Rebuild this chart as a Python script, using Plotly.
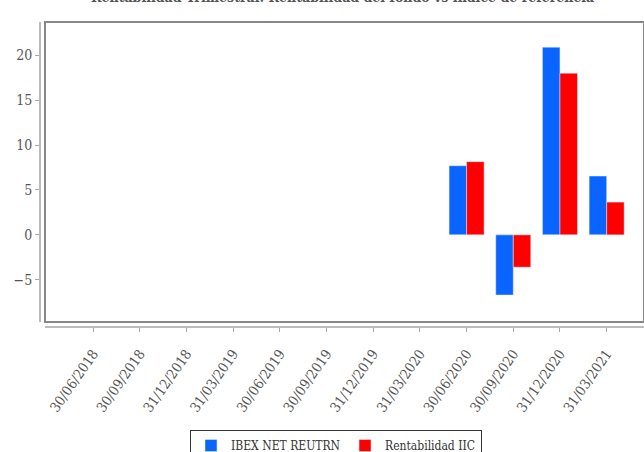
import plotly.graph_objects as go

categories = ["30/06/2018", "30/09/2018", "31/12/2018", "31/03/2019", "30/06/2019",
              "30/09/2019", "31/12/2019", "31/03/2020", "30/06/2020", "30/09/2020",
              "31/12/2020", "31/03/2021"]
ibex = [None, None, None, None, None, None, None, None, 7.7, -6.7, 20.9, 6.55]
rent = [None, None, None, None, None, None, None, None, 8.15, -3.6, 18.0, 3.65]
y_ticks = [-5, 0, 5, 10, 15, 20]
title_text = "Rentabilidad Trimestral: Rentabilidad del fondo vs índice de referencia"

W, H = 644, 452
ml, mr, mt, mb = 40, 0, 22, 125
pw = W - ml - mr
ph = H - mt - mb
off = 5

fig = go.Figure()
fig.add_trace(go.Bar(x=categories, y=ibex, name="IBEX NET REUTRN", marker_color="#0a64ff"))
fig.add_trace(go.Bar(x=categories, y=rent, name="Rentabilidad IIC", marker_color="#ff0000"))

font = "DejaVu Serif Condensed, DejaVu Serif, serif"
fig.update_layout(
    width=W, height=H,
    margin=dict(l=ml, r=mr, t=mt, b=mb, autoexpand=False),
    paper_bgcolor="white", plot_bgcolor="white",
    barmode="group", bargap=0.25, bargroupgap=0,
    font=dict(family=font, color="#555555", size=13),
    xaxis=dict(
        domain=[off / pw, 1], anchor="free", position=0, automargin=False,
        type="category", range=[-1.03, 11.8],
        showgrid=False, zeroline=False,
        showline=True, linecolor="#bbbbbb", linewidth=2,
        ticks="outside", ticklen=4, tickcolor="#aaaaaa",
        ticklabelstandoff=8,
        tickangle=-55, tickfont=dict(size=14, color="#555555"),
    ),
    yaxis=dict(
        domain=[off / ph, 1], anchor="free", position=0, automargin=False,
        range=[-9.7, 23.7], tickvals=y_ticks,
        showgrid=False, zeroline=False,
        showline=True, linecolor="#bbbbbb", linewidth=2,
        ticks="outside", ticklen=4, tickcolor="#aaaaaa",
        tickfont=dict(size=14, color="#555555"),
    ),
    showlegend=True,
    legend=dict(
        orientation="h", xref="container", yref="container",
        x=336 / W, xanchor="center", y=1 - 430 / H, yanchor="top",
        bordercolor="#333333", borderwidth=1,
        font=dict(size=12, color="#333333", family=font),
        itemwidth=30, tracegroupgap=0,
    ),
    shapes=[dict(type="rect", xref="x domain", yref="y domain", x0=0, x1=1, y0=0, y1=1,
                 line=dict(color="#888888", width=2), layer="above")],
    annotations=[dict(text="<b>" + title_text + "</b>", xref="paper", yref="paper",
                      x=0.5, y=1.0, xanchor="center", yanchor="bottom", yshift=15,
                      showarrow=False, font=dict(size=14, color="#555555", family=font))],
)

fig.write_html("out.html", config={"displayModeBar": False},
               post_script="document.body.style.margin='0';document.body.style.overflow='hidden';")
